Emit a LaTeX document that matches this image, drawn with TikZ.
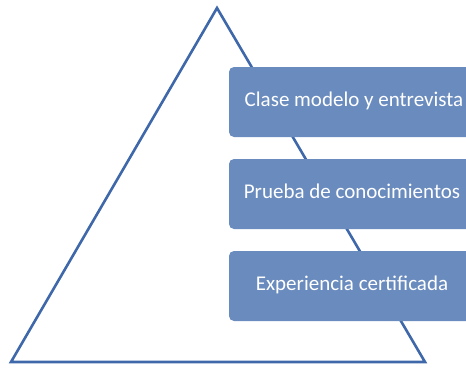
\documentclass[tikz,border=0pt]{standalone}
\usepackage{fontspec}
\setmainfont{Carlito}
\definecolor{edge}{HTML}{3E68AA}
\definecolor{boxfill}{HTML}{6A8BBE}
\begin{document}
\begin{tikzpicture}[x=1pt,y=-1pt,
  tri/.style={draw=edge,line width=2.6pt,line join=miter},
  levelbox/.style={fill=boxfill,rounded corners=5pt},
  leveltext/.style={text=white,font=\fontsize{21}{24}\selectfont,inner sep=0pt,anchor=base}]
\useasboundingbox (0,0) rectangle (466,367);
\coordinate (apex) at (217,8);
\coordinate (bl) at (11,362);
\coordinate (br) at (425,362);
\draw[tri] (apex) -- (br) -- (bl) -- cycle;
\begin{scope}
\clip (0,0) rectangle (466,367);
\fill[levelbox] (229,67) rectangle (480,137);
\fill[levelbox] (229,159) rectangle (480,229);
\fill[levelbox] (229,251) rectangle (480,321);
\end{scope}
\node[leveltext] (t1) at (354,106.7) {Clase modelo y entrevista};
\node[leveltext] (t2) at (352,198.7) {Prueba de conocimientos};
\node[leveltext] (t3) at (352,290.7) {Experiencia certificada};
\end{tikzpicture}
\end{document}
